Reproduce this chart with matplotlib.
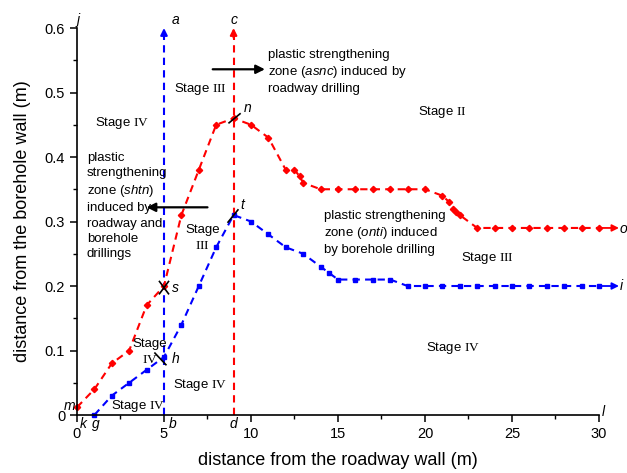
import matplotlib
matplotlib.use("Agg")
import matplotlib.pyplot as plt
from matplotlib.ticker import MultipleLocator, FuncFormatter

plt.rcParams['font.family'] = ['Liberation Sans', 'DejaVu Sans']
plt.rcParams['mathtext.fontset'] = 'custom'
plt.rcParams['mathtext.rm'] = 'Liberation Serif'
plt.rcParams['mathtext.it'] = 'Liberation Sans:italic'

# Plastic zone boundary induced by roadway drilling (red)
red_x = [0, 1, 2, 3, 4, 5, 6, 7, 8, 9, 10, 11, 12, 12.5, 12.8, 13, 14, 15, 16,
         17, 18, 19, 20, 21, 21.4, 21.6, 21.8, 22, 23, 24, 25, 26, 27, 28, 29, 30]
red_y = [0.012, 0.04, 0.08, 0.10, 0.17, 0.20, 0.31, 0.38, 0.45, 0.46, 0.45,
         0.43, 0.38, 0.38, 0.37, 0.36, 0.35, 0.35, 0.35, 0.35, 0.35, 0.35, 0.35,
         0.34, 0.33, 0.32, 0.315, 0.31, 0.29, 0.29, 0.29, 0.29, 0.29, 0.29,
         0.29, 0.29]

# Plastic zone boundary induced by borehole drilling (blue)
blue_x = [1, 2, 3, 4, 5, 6, 7, 8, 9, 10, 11, 12, 13, 14, 14.5, 15, 16, 17, 18,
          19, 20, 21, 22, 23, 24, 25, 26, 27, 28, 29, 30]
blue_y = [0.0, 0.03, 0.05, 0.07, 0.09, 0.14, 0.20, 0.26, 0.31, 0.30, 0.28,
          0.26, 0.25, 0.23, 0.22, 0.21, 0.21, 0.21, 0.21, 0.20, 0.20, 0.20,
          0.20, 0.20, 0.20, 0.20, 0.20, 0.20, 0.20, 0.20, 0.20]

x_ticks = [0, 5, 10, 15, 20, 25, 30]
y_ticks = [0, 0.1, 0.2, 0.3, 0.4, 0.5, 0.6]

RED = '#FF0000'
BLUE = '#0000FF'
DASH = (3.5, 2.5)

fig = plt.figure(figsize=(6.27, 4.73), dpi=100)
ax = fig.add_axes([0.1228, 0.1226, 0.8325, 0.8182])
ax.set_xlim(0, 30)
ax.set_ylim(0, 0.6)

for s in ('top', 'right'):
    ax.spines[s].set_visible(False)
for s in ('left', 'bottom'):
    ax.spines[s].set_linewidth(1.2)

ax.set_xticks(x_ticks)
ax.set_yticks(y_ticks)
ax.xaxis.set_minor_locator(MultipleLocator(2.5))
ax.yaxis.set_minor_locator(MultipleLocator(0.05))
ax.yaxis.set_major_formatter(FuncFormatter(lambda v, p: '0' if abs(v) < 1e-9 else f'{v:.1f}'))
ax.tick_params(which='major', direction='out', length=5, width=1.1, labelsize=10.5)
ax.tick_params(which='minor', direction='out', length=3, width=1.0)

ax.set_xlabel('distance from the roadway wall (m)', fontsize=13, labelpad=8)
ax.set_ylabel('distance from the borehole wall (m)', fontsize=13, labelpad=10)

# vertical reference lines with arrowheads
for xv, col in ((5, BLUE), (9, RED)):
    ax.plot([xv, xv], [0, 0.59], color=col, lw=1.5, ls='--', dashes=DASH, clip_on=False)
    ax.annotate('', xy=(xv, 0.6), xytext=(xv, 0.585),
                arrowprops=dict(arrowstyle='-|>', color=col, lw=1.5,
                                mutation_scale=10, shrinkA=0, shrinkB=0),
                annotation_clip=False)

# boundary curves
ax.plot(red_x, red_y, color=RED, lw=1.5, ls='--', dashes=DASH, marker='D',
        markersize=3.2, clip_on=False)
ax.plot(blue_x, blue_y, color=BLUE, lw=1.5, ls='--', dashes=DASH, marker='s',
        markersize=3.2, clip_on=False)
for xs, ys, col in ((red_x, red_y, RED), (blue_x, blue_y, BLUE)):
    ax.annotate('', xy=(31.15, ys[-1]), xytext=(xs[-1], ys[-1]),
                arrowprops=dict(arrowstyle='-|>', color=col, lw=1.3,
                                mutation_scale=10, shrinkA=0, shrinkB=0),
                annotation_clip=False)

# intersection marks
cross_segments = [
    ((4.74, 5.26), (0.188, 0.207)),
    ((4.74, 5.26), (0.207, 0.188)),
    ((8.74, 9.37), (0.453, 0.467)),
    ((8.68, 9.25), (0.299, 0.318)),
    ((4.48, 5.11), (0.096, 0.078)),
]
for xs, ys in cross_segments:
    ax.plot(xs, ys, color='black', lw=1.2, clip_on=False)

# zone arrows
ax.annotate('', xy=(10.8, 0.536), xytext=(7.8, 0.536),
            arrowprops=dict(arrowstyle='-|>', color='black', lw=1.6,
                            mutation_scale=13, shrinkA=0, shrinkB=0))
ax.annotate('', xy=(4.0, 0.322), xytext=(7.5, 0.322),
            arrowprops=dict(arrowstyle='-|>', color='black', lw=1.6,
                            mutation_scale=13, shrinkA=0, shrinkB=0))

# point letters
letters = [
    ('j', 0.0, 0.612), ('a', 5.45, 0.612), ('c', 8.85, 0.612),
    ('n', 9.6, 0.476), ('s', 5.45, 0.197), ('t', 9.4, 0.325),
    ('h', 5.45, 0.087), ('m', -0.75, 0.014), ('k', 0.15, -0.014),
    ('g', 0.85, -0.014), ('b', 5.3, -0.014), ('d', 8.75, -0.014),
    ('l', 30.15, 0.004), ('o', 31.2, 0.288), ('i', 31.2, 0.200),
]
for txt, xv, yv in letters:
    ax.text(xv, yv, txt, fontsize=10, style='italic', ha='left', va='center', clip_on=False)

# stage labels
FS = 9.5
stages = [
    (r'Stage $\mathrm{IV}$', 2.6, 0.453),
    (r'Stage $\mathrm{III}$', 7.07, 0.505),
    (r'Stage $\mathrm{II}$', 21.0, 0.470),
    ('Stage\n' + r'$\mathrm{III}$', 7.2, 0.275),
    (r'Stage $\mathrm{III}$', 23.6, 0.243),
    ('Stage\n' + r'$\mathrm{IV}$', 4.2, 0.097),
    (r'Stage $\mathrm{IV}$', 3.5, 0.014),
    (r'Stage $\mathrm{IV}$', 7.07, 0.046),
    (r'Stage $\mathrm{IV}$', 21.6, 0.104),
]
for txt, xv, yv in stages:
    ax.text(xv, yv, txt, fontsize=FS, ha='center', va='center', linespacing=1.45)

# zone descriptions
ax.text(11.0, 0.568, 'plastic strengthening\nzone ($\\mathit{asnc}$) induced by\nroadway drilling',
        fontsize=FS, ha='left', va='top', linespacing=1.3)
ax.text(0.57, 0.408, 'plastic\nstrengthening\nzone ($\\mathit{shtn}$)\ninduced by\nroadway and\nborehole\ndrillings',
        fontsize=FS, ha='left', va='top', linespacing=1.36)
ax.text(14.2, 0.318, 'plastic strengthening\nzone ($\\mathit{onti}$) induced\nby borehole drilling',
        fontsize=FS, ha='left', va='top', linespacing=1.3)

fig.savefig('out.png', dpi=100)
